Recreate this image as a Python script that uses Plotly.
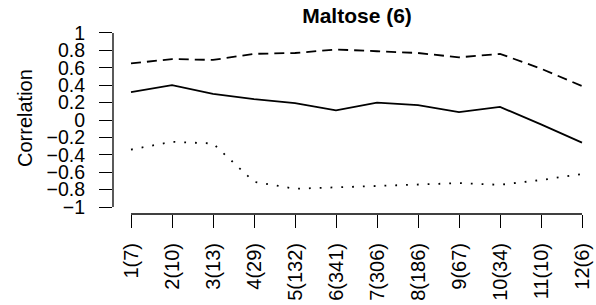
import plotly.graph_objects as go

categories = ["1(7)", "2(10)", "3(13)", "4(29)", "5(132)", "6(341)", "7(306)",
              "8(186)", "9(67)", "10(34)", "11(10)", "12(6)"]
x_pos = list(range(1, len(categories) + 1))
mean_corr = [0.32, 0.40, 0.30, 0.24, 0.195, 0.11, 0.20, 0.17, 0.09, 0.15, -0.05, -0.26]
upper_corr = [0.65, 0.70, 0.69, 0.76, 0.77, 0.81, 0.79, 0.77, 0.72, 0.76, 0.59, 0.39]
lower_corr = [-0.34, -0.25, -0.27, -0.71, -0.79, -0.775, -0.76, -0.745, -0.725, -0.745, -0.69, -0.62]
y_ticks = [-1, -0.8, -0.6, -0.4, -0.2, 0, 0.2, 0.4, 0.6, 0.8, 1]
y_ticklabels = ["\u22121", "\u22120.8", "\u22120.6", "\u22120.4", "\u22120.2", "0",
                "0.2", "0.4", "0.6", "0.8", "1"]

FONT = "Liberation Sans, Arial, sans-serif"

fig = go.Figure()
fig.add_trace(go.Scatter(x=x_pos, y=upper_corr, mode="lines",
                         line=dict(color="black", width=1.8, dash="10px,6px")))
fig.add_trace(go.Scatter(x=x_pos, y=mean_corr, mode="lines",
                         line=dict(color="black", width=1.8)))
fig.add_trace(go.Scatter(x=x_pos, y=lower_corr, mode="lines",
                         line=dict(color="black", width=1.8, dash="1.8px,9px")))

n = len(categories)
fig.update_layout(
    width=596, height=305,
    margin=dict(l=113, r=0, t=26, b=91),
    paper_bgcolor="white", plot_bgcolor="white",
    showlegend=False,
    font=dict(family=FONT, size=19, color="black"),
    title=dict(text="<b>Maltose (6)</b>", x=357/596, xanchor="center",
               y=1 - 16/305, yanchor="middle", yref="container",
               font=dict(family=FONT, size=21, color="black")),
    xaxis=dict(range=[1 - 18/41, n + 14/41], tickmode="array", tickvals=x_pos,
               ticktext=categories, tickangle=-90, ticks="outside", ticklen=13,
               tickwidth=1.3, tickcolor="black", showgrid=False, zeroline=False,
               showline=False, ticklabelstandoff=7, fixedrange=True,
               automargin=False, tickfont=dict(family=FONT, size=20, color="black")),
    yaxis=dict(range=[-1.08, 1.08], tickmode="array", tickvals=y_ticks,
               ticktext=y_ticklabels, ticks="outside", ticklen=13, tickwidth=1.3,
               tickcolor="black", showgrid=False, zeroline=False, showline=False,
               ticklabelstandoff=10, fixedrange=True, automargin=False,
               tickfont=dict(family=FONT, size=19.5, color="black")),
    annotations=[dict(text="Correlation", xref="paper", yref="paper",
                      x=(25 - 113) / 483, y=(214 - 118) / 188,
                      xanchor="center", yanchor="middle",
                      textangle=-90, showarrow=False,
                      font=dict(family=FONT, size=20, color="black"))],
    shapes=[
        dict(type="line", xref="paper", yref="y", x0=0, x1=0,
             y0=min(y_ticks), y1=max(y_ticks), line=dict(color="black", width=1.3)),
        dict(type="line", xref="x", yref="paper", x0=min(x_pos), x1=max(x_pos),
             y0=0, y1=0, line=dict(color="black", width=1.3)),
    ],
)

fig.write_html("out.html", config={"displayModeBar": False},
               post_script="document.body.style.margin='0px';")
